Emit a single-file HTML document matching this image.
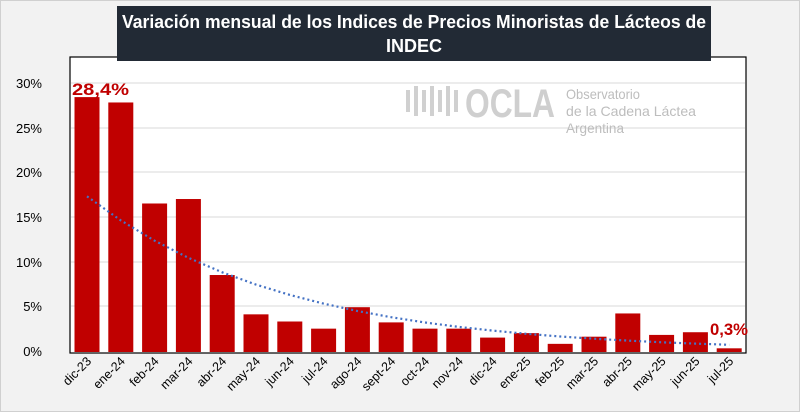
<!DOCTYPE html>
<html><head><meta charset="utf-8"><style>
html,body{margin:0;padding:0;background:#f2f2f2}
svg{display:block}
text{font-family:"Liberation Sans",sans-serif}
</style></head><body>
<svg width="800" height="412" xmlns="http://www.w3.org/2000/svg">
<rect x="0.5" y="0.5" width="799" height="411" fill="#f2f2f2" stroke="#d0d0d0"/>
<rect x="70" y="57" width="676" height="296" fill="#fff" stroke="#000" stroke-width="1.2"/>
<g stroke="#d9d9d9" stroke-width="1">
<line x1="71" x2="745" y1="83" y2="83"/><line x1="71" x2="745" y1="128" y2="128"/>
<line x1="71" x2="745" y1="172" y2="172"/><line x1="71" x2="745" y1="217" y2="217"/>
<line x1="71" x2="745" y1="262" y2="262"/><line x1="71" x2="745" y1="306" y2="306"/>
</g>
<g font-size="13" fill="#000" text-anchor="end">
<text x="42" y="88">30%</text><text x="42" y="133">25%</text><text x="42" y="177">20%</text>
<text x="42" y="222">15%</text><text x="42" y="267">10%</text><text x="42" y="311">5%</text><text x="42" y="356">0%</text>
</g>
<g fill="#c00000" id="bars"></g>
<g>
<path d="M408 90 v22 M416 86 v30 M424 90 v22 M432 86 v30 M440 90 v22 M448 86 v30 M456 90 v22" stroke="#d0d0d0" stroke-width="4" fill="none"/>
<text x="465" y="117" font-size="40" font-weight="bold" fill="#cfcfcf" textLength="90" lengthAdjust="spacingAndGlyphs">OCLA</text>
<text x="566" y="99" font-size="14" fill="#bdbdbd" textLength="74" lengthAdjust="spacingAndGlyphs">Observatorio</text>
<text x="566" y="116" font-size="14" fill="#bdbdbd" textLength="130" lengthAdjust="spacingAndGlyphs">de la Cadena Láctea</text>
<text x="566" y="133" font-size="14" fill="#bdbdbd" textLength="58" lengthAdjust="spacingAndGlyphs">Argentina</text>
</g>
<polyline id="trend" fill="none" stroke="#4472c4" stroke-width="2.2" stroke-dasharray="2,3"/>
<g id="labels" font-size="12.5" fill="#000"></g>
<text x="72" y="95" font-size="17" font-weight="bold" fill="#c00000" textLength="57" lengthAdjust="spacingAndGlyphs">28,4%</text>
<text x="710" y="335" font-size="17" font-weight="bold" fill="#c00000" textLength="38" lengthAdjust="spacingAndGlyphs">0,3%</text>
<rect x="117" y="6" width="594" height="55" fill="#222a35"/>
<text x="122" y="28" font-size="18" font-weight="bold" fill="#fff" textLength="584" lengthAdjust="spacingAndGlyphs">Variación mensual de los Indices de Precios Minoristas de Lácteos de</text>
<text x="414" y="52" font-size="18" font-weight="bold" fill="#fff" text-anchor="middle">INDEC</text>
<script>
var v=[28.4,27.8,16.5,17.0,8.5,4.1,3.3,2.5,4.9,3.2,2.5,2.5,1.5,2.0,0.8,1.6,4.2,1.8,2.1,0.3];
var n=["dic-23","ene-24","feb-24","mar-24","abr-24","may-24","jun-24","jul-24","ago-24","sept-24","oct-24","nov-24","dic-24","ene-25","feb-25","mar-25","abr-25","may-25","jun-25","jul-25"];
var ns="http://www.w3.org/2000/svg",b=document.getElementById("bars"),l=document.getElementById("labels"),pts=[];
function Y(p){return 351-p*8.94;}
for(var i=0;i<20;i++){var c=87+i*33.8;
var r=document.createElementNS(ns,"rect");r.setAttribute("x",c-12.5);r.setAttribute("width",25);r.setAttribute("y",Y(v[i]));r.setAttribute("height",351-Y(v[i])+1);b.appendChild(r);
var t=document.createElementNS(ns,"text");t.setAttribute("text-anchor","end");t.setAttribute("transform","translate("+(c+5)+",362) rotate(-45)");t.textContent=n[i];l.appendChild(t);
pts.push(c+","+Y(17.3*Math.exp(-0.169*i)).toFixed(1));}
document.getElementById("trend").setAttribute("points",pts.join(" "));
</script>
</svg>
</body></html>
